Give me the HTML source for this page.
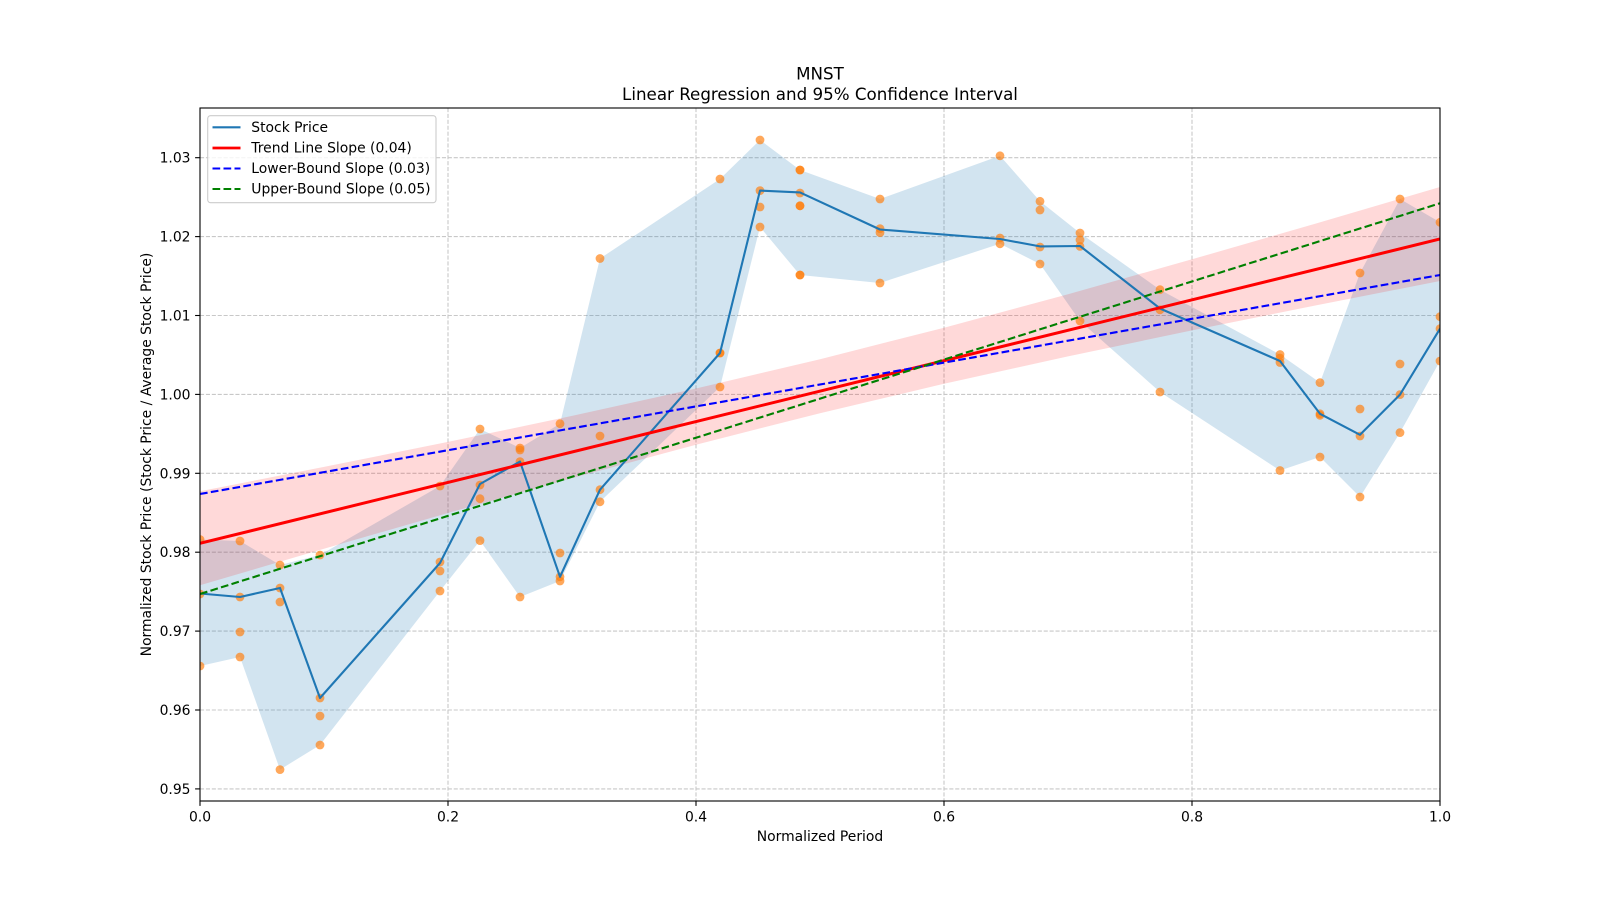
<!DOCTYPE html>
<html>
<head>
<meta charset="utf-8">
<style>
html,body{margin:0;padding:0;background:#fff;}
svg{display:block;}
text{font-family:"DejaVu Sans","Liberation Sans",sans-serif;fill:#000;}
</style>
</head>
<body>
<svg width="1600" height="900" viewBox="0 0 1600 900" xmlns="http://www.w3.org/2000/svg">
<rect x="0" y="0" width="1600" height="900" fill="#fff"/>
<defs>
<clipPath id="ax"><rect x="200" y="108" width="1240" height="693"/></clipPath>
</defs>

<!-- grid -->
<g stroke="#c8c8c8" stroke-width="1.1" stroke-dasharray="4.1 1.8" fill="none">
<line x1="200" y1="788.9" x2="1440" y2="788.9"/>
<line x1="200" y1="710.0" x2="1440" y2="710.0"/>
<line x1="200" y1="631.1" x2="1440" y2="631.1"/>
<line x1="200" y1="552.2" x2="1440" y2="552.2"/>
<line x1="200" y1="473.3" x2="1440" y2="473.3"/>
<line x1="200" y1="394.4" x2="1440" y2="394.4"/>
<line x1="200" y1="315.5" x2="1440" y2="315.5"/>
<line x1="200" y1="236.6" x2="1440" y2="236.6"/>
<line x1="200" y1="157.7" x2="1440" y2="157.7"/>
<line x1="448" y1="108" x2="448" y2="801"/>
<line x1="696" y1="108" x2="696" y2="801"/>
<line x1="944" y1="108" x2="944" y2="801"/>
<line x1="1192" y1="108" x2="1192" y2="801"/>
</g>

<g clip-path="url(#ax)">
<!-- blue fill (min-max range) -->
<polygon fill="#1f77b4" fill-opacity="0.2" points="200,539.5 240,541 280,565 320,555 440,486 480,429 520,448 560,423.7 600,258.5 720,179 760,140 800,170 880,199 1000,155.8 1040,201.3 1080,233 1160,289.7 1280,354.5 1320,382.6 1360,273 1400,199 1440,222.3 1440,361 1400,432.6 1360,497 1320,457 1280,470.5 1160,392 1080,321 1040,264 1000,243.8 880,283 800,275 760,227 720,387 600,501.8 560,581 520,597 480,540.6 440,591 320,745 280,769.6 240,657 200,666"/>
<!-- pink confidence band -->
<polygon fill="#ff0000" fill-opacity="0.15" points="200,491.3 324,466.9 448,441.9 572,415.9 696,388.5 820,359.2 944,327.7 1068,294.2 1192,259.3 1316,223.5 1440,187.0 1440,281.0 1316,305.4 1192,330.4 1068,356.4 944,383.8 820,413.2 696,444.7 572,478.1 448,513.0 324,548.8 200,585.3"/>

<!-- scatter -->
<g fill="#ff7f0e" fill-opacity="0.68">
<circle cx="200" cy="539.5" r="4.4"/><circle cx="200" cy="594" r="4.4"/><circle cx="200" cy="666" r="4.4"/>
<circle cx="240" cy="541" r="4.4"/><circle cx="240" cy="597" r="4.4"/><circle cx="240" cy="632" r="4.4"/><circle cx="240" cy="657" r="4.4"/>
<circle cx="280" cy="565" r="4.4"/><circle cx="280" cy="588" r="4.4"/><circle cx="280" cy="602" r="4.4"/><circle cx="280" cy="769.6" r="4.4"/>
<circle cx="320" cy="555" r="4.4"/><circle cx="320" cy="698" r="4.4"/><circle cx="320" cy="716" r="4.4"/><circle cx="320" cy="745" r="4.4"/>
<circle cx="440" cy="486" r="4.4"/><circle cx="440" cy="562" r="4.4"/><circle cx="440" cy="571" r="4.4"/><circle cx="440" cy="591" r="4.4"/>
<circle cx="480" cy="429" r="4.4"/><circle cx="480" cy="485" r="4.4"/><circle cx="480" cy="498.7" r="4.4"/><circle cx="480" cy="540.6" r="4.4"/>
<circle cx="520" cy="448" r="4.4"/><circle cx="520" cy="450" r="4.4"/><circle cx="520" cy="461.6" r="4.4"/><circle cx="520" cy="597" r="4.4"/>
<circle cx="560" cy="423.7" r="4.4"/><circle cx="560" cy="553" r="4.4"/><circle cx="560" cy="576.8" r="4.4"/><circle cx="560" cy="581" r="4.4"/>
<circle cx="600" cy="258.5" r="4.4"/><circle cx="600" cy="436" r="4.4"/><circle cx="600" cy="489.7" r="4.4"/><circle cx="600" cy="501.8" r="4.4"/>
<circle cx="720" cy="179" r="4.4"/><circle cx="720" cy="353" r="4.4"/><circle cx="720" cy="353" r="4.4"/><circle cx="720" cy="387" r="4.4"/>
<circle cx="760" cy="140" r="4.4"/><circle cx="760" cy="190.6" r="4.4"/><circle cx="760" cy="207" r="4.4"/><circle cx="760" cy="227" r="4.4"/>
<circle cx="800" cy="170" r="4.4"/><circle cx="800" cy="170" r="4.4"/><circle cx="800" cy="193" r="4.4"/><circle cx="800" cy="205.8" r="4.4"/><circle cx="800" cy="205.8" r="4.4"/><circle cx="800" cy="275" r="4.4"/><circle cx="800" cy="275" r="4.4"/>
<circle cx="880" cy="199" r="4.4"/><circle cx="880" cy="228.6" r="4.4"/><circle cx="880" cy="232.6" r="4.4"/><circle cx="880" cy="283" r="4.4"/>
<circle cx="1000" cy="155.8" r="4.4"/><circle cx="1000" cy="238" r="4.4"/><circle cx="1000" cy="243.8" r="4.4"/>
<circle cx="1040" cy="201.3" r="4.4"/><circle cx="1040" cy="210" r="4.4"/><circle cx="1040" cy="247" r="4.4"/><circle cx="1040" cy="264" r="4.4"/>
<circle cx="1080" cy="233" r="4.4"/><circle cx="1080" cy="240" r="4.4"/><circle cx="1080" cy="246.4" r="4.4"/><circle cx="1080" cy="321" r="4.4"/>
<circle cx="1160" cy="289.7" r="4.4"/><circle cx="1160" cy="309.8" r="4.4"/><circle cx="1160" cy="392" r="4.4"/>
<circle cx="1280" cy="354.5" r="4.4"/><circle cx="1280" cy="358" r="4.4"/><circle cx="1280" cy="362.5" r="4.4"/><circle cx="1280" cy="470.5" r="4.4"/>
<circle cx="1320" cy="382.6" r="4.4"/><circle cx="1320" cy="413.8" r="4.4"/><circle cx="1320" cy="415.3" r="4.4"/><circle cx="1320" cy="457" r="4.4"/>
<circle cx="1360" cy="273" r="4.4"/><circle cx="1360" cy="409" r="4.4"/><circle cx="1360" cy="436" r="4.4"/><circle cx="1360" cy="497" r="4.4"/>
<circle cx="1400" cy="199" r="4.4"/><circle cx="1400" cy="364" r="4.4"/><circle cx="1400" cy="394.6" r="4.4"/><circle cx="1400" cy="432.6" r="4.4"/>
<circle cx="1440" cy="222.3" r="4.4"/><circle cx="1440" cy="316.7" r="4.4"/><circle cx="1440" cy="328.7" r="4.4"/><circle cx="1440" cy="361" r="4.4"/>
</g>

<!-- stock line -->
<polyline fill="none" stroke="#1f77b4" stroke-width="2.1" stroke-linejoin="round" points="200,593.5 240,597 280,588 320,698 440,563 480,484 520,461.6 560,576.8 600,489.7 720,353 760,190.6 800,192.4 880,229.5 1000,239 1040,246.4 1080,246 1160,308.5 1280,361 1320,413.8 1360,434.8 1400,394.6 1440,328.7"/>

<!-- regression lines -->
<line x1="200" y1="543.3" x2="1440" y2="239" stroke="#ff0000" stroke-width="3"/>
<line x1="200" y1="494" x2="1440" y2="275" stroke="#0000ff" stroke-width="2.1" stroke-dasharray="7.7 3.3"/>
<line x1="200" y1="594" x2="1440" y2="203.3" stroke="#008000" stroke-width="2.1" stroke-dasharray="7.7 3.3"/>
</g>

<!-- axes frame -->
<rect x="200" y="108" width="1240" height="693" fill="none" stroke="#000" stroke-width="1.1"/>

<!-- ticks -->
<g stroke="#000" stroke-width="1.1">
<line x1="195.1" y1="788.9" x2="200" y2="788.9"/>
<line x1="195.1" y1="710.0" x2="200" y2="710.0"/>
<line x1="195.1" y1="631.1" x2="200" y2="631.1"/>
<line x1="195.1" y1="552.2" x2="200" y2="552.2"/>
<line x1="195.1" y1="473.3" x2="200" y2="473.3"/>
<line x1="195.1" y1="394.4" x2="200" y2="394.4"/>
<line x1="195.1" y1="315.5" x2="200" y2="315.5"/>
<line x1="195.1" y1="236.6" x2="200" y2="236.6"/>
<line x1="195.1" y1="157.7" x2="200" y2="157.7"/>
<line x1="200" y1="801" x2="200" y2="805.9"/>
<line x1="448" y1="801" x2="448" y2="805.9"/>
<line x1="696" y1="801" x2="696" y2="805.9"/>
<line x1="944" y1="801" x2="944" y2="805.9"/>
<line x1="1192" y1="801" x2="1192" y2="805.9"/>
<line x1="1440" y1="801" x2="1440" y2="805.9"/>
</g>

<!-- y tick labels -->
<g font-size="13.9" text-anchor="end">
<text x="190.5" y="793.9">0.95</text>
<text x="190.5" y="715.0">0.96</text>
<text x="190.5" y="636.1">0.97</text>
<text x="190.5" y="557.2">0.98</text>
<text x="190.5" y="478.3">0.99</text>
<text x="190.5" y="399.4">1.00</text>
<text x="190.5" y="320.5">1.01</text>
<text x="190.5" y="241.6">1.02</text>
<text x="190.5" y="162.7">1.03</text>
</g>
<!-- x tick labels -->
<g font-size="13.9" text-anchor="middle">
<text x="200" y="821.5">0.0</text>
<text x="448" y="821.5">0.2</text>
<text x="696" y="821.5">0.4</text>
<text x="944" y="821.5">0.6</text>
<text x="1192" y="821.5">0.8</text>
<text x="1440" y="821.5">1.0</text>
</g>

<!-- axis labels -->
<text x="820" y="841" font-size="13.9" text-anchor="middle">Normalized Period</text>
<text transform="translate(151,454.5) rotate(-90)" font-size="13.9" text-anchor="middle">Normalized Stock Price (Stock Price / Average Stock Price)</text>

<!-- title -->
<text x="820" y="79.5" font-size="16.7" text-anchor="middle">MNST</text>
<text x="820" y="99.8" font-size="16.7" text-anchor="middle">Linear Regression and 95% Confidence Interval</text>

<!-- legend -->
<rect x="207.7" y="115.7" width="228.3" height="87" rx="2.8" ry="2.8" fill="#fff" fill-opacity="0.8" stroke="#cccccc" stroke-width="1.1"/>
<line x1="212.5" y1="127.3" x2="240.5" y2="127.3" stroke="#1f77b4" stroke-width="2.1"/>
<line x1="212.5" y1="148" x2="240.5" y2="148" stroke="#ff0000" stroke-width="2.8"/>
<line x1="212.5" y1="168.5" x2="240.5" y2="168.5" stroke="#0000ff" stroke-width="2.1" stroke-dasharray="7.7 3.3"/>
<line x1="212.5" y1="189" x2="240.5" y2="189" stroke="#008000" stroke-width="2.1" stroke-dasharray="7.7 3.3"/>
<g font-size="13.9">
<text x="251.3" y="132.2">Stock Price</text>
<text x="251.3" y="152.7">Trend Line Slope (0.04)</text>
<text x="251.3" y="173.2">Lower-Bound Slope (0.03)</text>
<text x="251.3" y="193.7">Upper-Bound Slope (0.05)</text>
</g>
</svg>
</body>
</html>
